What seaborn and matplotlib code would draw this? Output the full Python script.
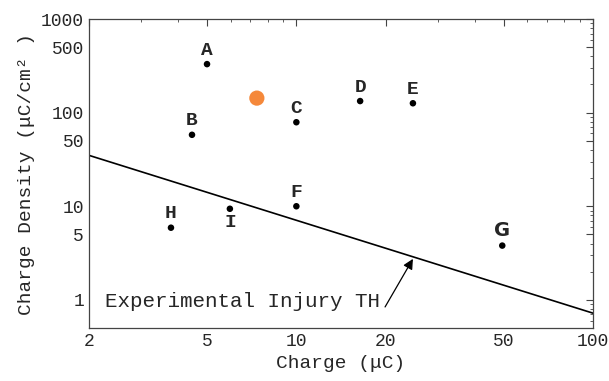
import matplotlib
matplotlib.use("Agg")
import matplotlib.pyplot as plt
import matplotlib.ticker as mticker
import seaborn as sns
import pandas as pd

# data
labels = ['A', 'B', 'C', 'D', 'E', 'F', 'G', 'H', 'I']
charge = [5.0, 4.45, 10.0, 16.4, 24.7, 10.0, 49.4, 3.78, 5.97]
density = [330, 58, 79, 133, 126, 10.0, 3.8, 5.9, 9.4]
label_below = ['I']

orange_charge = [7.36]
orange_density = [143]

th_charge = [2, 100]
th_density = [35, 0.72]

sns.set_style("white")
plt.rcParams['font.family'] = ['Liberation Mono', 'DejaVu Sans']

pts = pd.DataFrame({'label': labels, 'charge': charge, 'density': density})

fig, ax = plt.subplots(figsize=(6.09, 3.81), dpi=100)
sns.lineplot(x=th_charge, y=th_density, ax=ax, color='black', lw=1.2)
sns.scatterplot(data=pts, x='charge', y='density', ax=ax, color='black',
                s=22, edgecolor='none')
sns.scatterplot(x=orange_charge, y=orange_density, ax=ax, color='#f5883a',
                s=120, edgecolor='none')

for lab, cx, cy in zip(labels, charge, density):
    if lab in label_below:
        ax.annotate(lab, (cx, cy), xytext=(0, -4), textcoords='offset points',
                    ha='center', va='top', fontsize=14, fontweight='bold')
    else:
        fam = ['DejaVu Sans'] if lab == 'G' else None
        ax.annotate(lab, (cx, cy), xytext=(0, 4), textcoords='offset points',
                    ha='center', va='bottom', fontsize=14, fontweight='bold',
                    family=fam)

# threshold label and arrow
ax.text(19.1, 0.95, 'Experimental Injury TH', ha='right', va='center',
        fontsize=15)
ax.annotate('', xy=(24.7, 2.74), xytext=(19.9, 0.84),
            arrowprops=dict(arrowstyle='-|>', color='black', lw=0.9,
                            mutation_scale=15, shrinkA=0, shrinkB=0))

ax.set_xscale('log')
ax.set_yscale('log')
ax.set_xlim(2, 100)
ax.set_ylim(0.5, 1000)
ax.xaxis.set_major_locator(mticker.FixedLocator([2, 5, 10, 20, 50, 100]))
ax.xaxis.set_major_formatter(mticker.FixedFormatter(['2', '5', '10', '20', '50', '100']))
ax.xaxis.set_minor_locator(mticker.LogLocator(subs=range(1, 10)))
ax.xaxis.set_minor_formatter(mticker.NullFormatter())
yt = [1, 5, 10, 50, 100, 500, 1000]
ax.yaxis.set_major_locator(mticker.FixedLocator(yt))
ax.yaxis.set_major_formatter(mticker.FixedFormatter([str(v) for v in yt]))
ax.yaxis.set_minor_locator(mticker.LogLocator(subs=range(1, 10)))
ax.yaxis.set_minor_formatter(mticker.NullFormatter())
ax.tick_params(which='both', direction='in', top=True, right=True,
               labelsize=13, color='#444444')
ax.tick_params(which='major', length=5, width=0.8)
ax.tick_params(which='minor', length=2.5, width=0.6)
for sp in ax.spines.values():
    sp.set_color('#444444')
    sp.set_linewidth(0.9)

ax.set_xlabel('Charge (μC)', fontsize=14)
ax.set_ylabel('Charge Density (μC/cm² )', fontsize=14)

fig.subplots_adjust(left=0.146, right=0.974, top=0.95, bottom=0.139)
fig.savefig('out.png', dpi=100)
